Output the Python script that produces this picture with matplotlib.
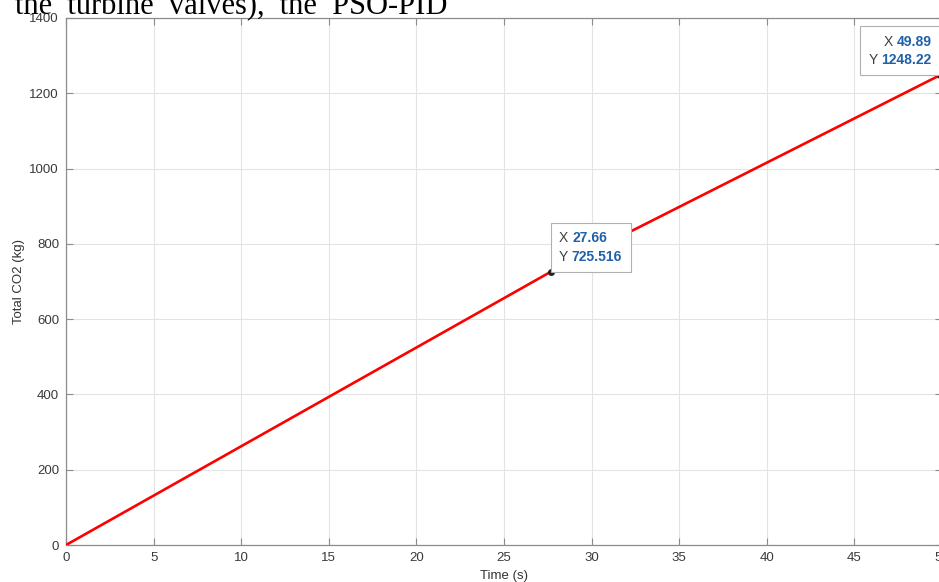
import matplotlib.pyplot as plt
from matplotlib.offsetbox import TextArea, HPacker, VPacker, AnnotationBbox

# data
time_s = [0.0, 27.66, 49.89]
total_co2 = [0.0, 725.516, 1248.22]
tip_x = [27.66, 49.89]
tip_y = [725.516, 1248.22]
tip_x_txt = ['27.66', '49.89']
tip_y_txt = ['725.516', '1248.22']

plt.rcParams['font.family'] = ['Liberation Sans', 'DejaVu Sans']

fig = plt.figure(figsize=(9.39, 5.82), dpi=100)
ax = fig.add_axes([66 / 939, 37 / 582, 876 / 939, 527 / 582])

ax.plot(time_s, total_co2, color='#ff0000', lw=1.9, zorder=3)
ax.plot(tip_x, tip_y, 'o', color='#222222', ms=4, zorder=4, clip_on=False)

ax.set_xlim(0, 50)
ax.set_ylim(0, 1400)
ax.set_xticks(range(0, 51, 5))
ax.set_yticks(range(0, 1401, 200))
ax.grid(True, color='#e3e3e3', lw=0.8)
ax.set_axisbelow(True)
for s in ax.spines.values():
    s.set_color('#8c8c8c')
    s.set_linewidth(0.9)
ax.tick_params(direction='in', top=True, right=True, length=5, width=0.8,
               color='#8c8c8c', labelsize=9.5, labelcolor='#3a3a3a', pad=5)
ax.set_xlabel('Time (s)', fontsize=9.5, color='#333333', labelpad=4)
ax.set_ylabel('Total CO2 (kg)', fontsize=9.5, color='#333333', labelpad=3)


def datatip(xv, yv, xs, ys, align, box_align, offset):
    rows = []
    for lab, val in (('X ', xs), ('Y ', ys)):
        rows.append(HPacker(children=[
            TextArea(lab, textprops=dict(color='#404040', fontsize=10)),
            TextArea(val, textprops=dict(color='#2060a8', fontsize=10, fontweight='bold')),
        ], align='baseline', pad=0, sep=0))
    box = VPacker(children=rows, align=align, pad=4.5, sep=3)
    ab = AnnotationBbox(box, (xv, yv), xybox=offset, boxcoords='offset points',
                        box_alignment=box_align, frameon=True, zorder=5,
                        bboxprops=dict(edgecolor='#b0b0b0', facecolor='white', lw=0.8,
                                       boxstyle='square,pad=0.15'))
    ax.add_artist(ab)


datatip(tip_x[0], tip_y[0], tip_x_txt[0], tip_y_txt[0], 'left', (0, 0), (1.5, 1.5))
datatip(tip_x[1], tip_y[1], tip_x_txt[1], tip_y_txt[1], 'right', (1, 0), (-1.5, 1.5))

# fragment of page text above the chart
fig.text(15 / 939, 1 - 14 / 582, 'the  turbine  valves),  the  PSO-PID',
         family=['Liberation Serif', 'DejaVu Serif'], fontsize=22, color='black',
         ha='left', va='baseline')

fig.savefig('out.png', dpi=100)
